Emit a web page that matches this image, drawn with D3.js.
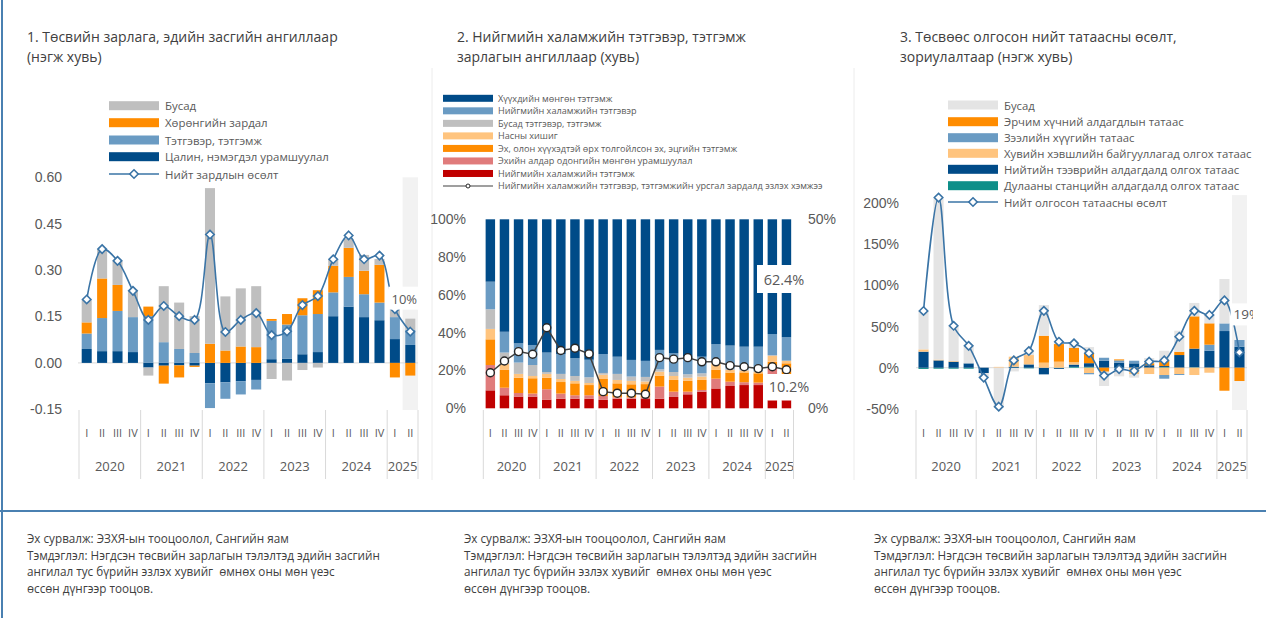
<!DOCTYPE html>
<html><head><meta charset="utf-8">
<script src="https://cdn.jsdelivr.net/npm/d3@7"></script>
<style>
body{margin:0;background:#fff;}
svg{display:block;font-family:"Open Sans","Noto Sans",sans-serif;}
text{white-space:pre;}
</style>
</head><body>
<svg id="c" width="1266" height="618"></svg>
<script>
// ---------- shared categories ----------
const years = ["2020","2021","2022","2023","2024","2025"];
const periods = ["2020-I","2020-II","2020-III","2020-IV","2021-I","2021-II","2021-III","2021-IV",
  "2022-I","2022-II","2022-III","2022-IV","2023-I","2023-II","2023-III","2023-IV",
  "2024-I","2024-II","2024-III","2024-IV","2025-I","2025-II"];

// ---------- panel 1 data (unit points) ----------
const p1Salary  = [0.045,0.038,0.038,0.035,-0.015,-0.009,-0.008,-0.009,-0.066,-0.063,-0.059,-0.055,0.012,0.014,0.028,0.035,0.151,0.182,0.148,0.138,0.077,0.058];
const p1Pension = [0.050,0.107,0.130,0.113,0.151,0.067,0.045,0.032,-0.080,-0.053,-0.043,-0.031,0.124,0.110,0.126,0.123,0.077,0.096,0.074,0.057,0.071,0.049];
const p1Capital = [0.036,0.128,0.084,0.000,0.031,-0.058,-0.039,-0.004,0.062,0.040,0.053,0.051,0.006,0.034,0.055,0.077,0.086,0.094,0.076,0.122,-0.047,-0.041];
const p1Other   = [0.072,0.095,0.078,0.088,-0.026,0.181,0.150,0.119,0.503,0.175,0.188,0.197,-0.052,-0.057,-0.023,-0.015,0.022,0.029,0.051,0.019,0.032,0.036];
const p1Total   = [0.205,0.368,0.330,0.233,0.139,0.184,0.151,0.139,0.415,0.100,0.139,0.161,0.090,0.102,0.187,0.216,0.335,0.412,0.335,0.347,0.174,0.101];
const p1Ticks = [-0.15,0,0.15,0.30,0.45,0.60];
const p1Legend = ["Бусад","Хөрөнгийн зардал","Тэтгэвэр, тэтгэмж","Цалин, нэмэгдэл урамшуулал","Нийт зардлын өсөлт"];
const p1Label = "10%";

// ---------- panel 2 data (% shares, line in % on right axis) ----------
const p2Red    = [9.5,6.9,6.2,6.2,4.6,5.1,5.1,5.1,4.6,5.1,5.1,4.9,5.1,6.0,7.4,8.8,10.5,11.8,12.3,12.3,4.1,4.1];
const p2Pink   = [13.4,4.0,1.9,1.6,5.5,2.7,1.8,1.8,1.9,0.7,0.7,0.9,6.4,2.8,1.4,0.9,5.2,2.3,1.5,1.3,17.9,2.0];
const p2Orange = [13.6,9.4,8.1,8.1,6.1,6.1,6.3,5.4,9.0,7.4,6.9,7.0,5.8,6.2,5.7,5.3,4.8,4.8,5.2,4.9,2.7,17.7];
const p2LightO = [5.5,3.2,2.0,1.2,2.0,1.6,1.3,1.1,2.3,1.8,1.8,1.4,2.1,2.1,1.7,1.8,3.3,1.4,1.0,0.7,3.0,1.4];
const p2Gray   = [10.4,6.0,6.0,5.8,1.0,2.7,2.6,3.0,0.9,3.2,2.3,2.4,1.2,2.1,1.8,1.7,0.7,0.7,0.6,0.6,0.5,0.0];
const p2LBlue  = [14.6,11.0,10.2,10.6,10.3,10.5,9.4,9.3,10.0,9.1,8.8,8.5,10.3,9.9,9.3,8.8,9.4,12.2,12.0,12.8,11.1,12.4];
const p2Dark   = [33.0,59.5,65.6,66.5,70.5,71.3,73.5,74.3,71.3,72.7,74.4,74.9,69.1,70.9,72.7,72.7,66.1,66.8,67.4,67.4,60.7,62.4];
const p2Line   = [9.4,12.5,15.0,14.3,21.3,15.3,15.9,14.4,4.4,4.0,4.0,3.7,13.4,13.0,13.4,12.3,12.3,11.3,11.0,10.5,11.0,10.2];
const p2TicksL = [0,20,40,60,80,100];
const p2TicksR = [0,50];
const p2Legend = ["Хүүхдийн мөнгөн тэтгэмж","Нийгмийн халамжийн тэтгэвэр","Бусад тэтгэвэр, тэтгэмж","Насны хишиг",
  "Эх, олон хүүхэдтэй өрх толгойлсон эх, эцгийн тэтгэмж","Эхийн алдар одонгийн мөнгөн урамшуулал",
  "Нийгмийн халамжийн тэтгэмж","Нийгмийн халамжийн тэтгэвэр, тэтгэмжийн урсгал зардалд эзлэх хэмжээ"];
const p2LabelTop = "62.4%";
const p2LabelLine = "10.2%";

// ---------- panel 3 data (%) ----------
const p3Heat   = [-1.5,-1.2,-1.2,-1.2,0,0,-0.5,-0.8,0,-0.5,1.0,1.0,0,-0.5,0,0,0.8,0,0.5,0,0,0];
const p3Public = [19.5,8.9,7.3,5.3,-6.5,0,1.2,4.0,-8.1,-1.0,2.8,4.5,8.5,6.1,5.3,3.0,1.2,15.4,22.7,20.7,44.6,25.5];
const p3Private= [2.8,1.0,0.8,0,0,1.0,12.2,11.4,6.1,7.3,2.8,-6.5,0,0,-8.1,-7.7,-8.9,-7.7,-8.9,-6.1,0,0];
const p3Loan   = [0,0,0,0,0,0,0,0,0,0,0,-1.5,3.6,2.8,3.2,0,-4.5,-1.2,0,7.3,9.3,8.2];
const p3Energy = [0,0,0,0,0,0,0,0,32.8,21.5,17.4,12.6,-4.9,1.2,0,2.5,6.5,4.0,39.3,26.0,-28.0,-16.2];
const p3Other  = [46.6,197.1,42.9,21.5,-5.0,-48.5,-4.0,5.3,37.3,2.5,6.0,7.0,-17.4,-10.0,-4.0,6.3,12.2,25.6,16.3,10.0,54.0,0];
const p3Line   = [69,207,51,26.6,-12,-47.4,8.9,20.3,69.2,31.6,29.6,17.6,-9.6,-1.8,-3.8,7.3,8.9,37.7,69.2,64.2,81.9,18.6];
const p3Ticks = [-50,0,50,100,150,200];
const p3Legend = ["Бусад","Эрчим хүчний алдагдлын татаас","Зээлийн хүүгийн татаас","Хувийн хэвшлийн байгууллагад олгох татаас",
  "Нийтийн тээврийн алдагдалд олгох татаас","Дулааны станцийн алдагдалд олгох татаас","Нийт олгосон татаасны өсөлт"];
const p3Label = "19%";

// ---------- texts ----------
const titles = [
  ["1. Төсвийн зарлага, эдийн засгийн ангиллаар","(нэгж хувь)"],
  ["2. Нийгмийн халамжийн тэтгэвэр, тэтгэмж","зарлагын ангиллаар (хувь)"],
  ["3. Төсвөөс олгосон нийт татаасны өсөлт,","зориулалтаар (нэгж хувь)"]
];
const footer = ["Эх сурвалж: ЭЗХЯ-ын тооцоолол, Сангийн яам",
  "Тэмдэглэл: Нэгдсэн төсвийн зарлагын тэлэлтэд эдийн засгийн",
  "ангилал тус бүрийн эзлэх хувийг  өмнөх оны мөн үеэс",
  "өссөн дүнгээр тооцов."];

// ---------- styles ----------
const C = {dark:"#004b88", lblue:"#6a9bc3", orange:"#ff8c00", gray:"#bfbfbf", lgray:"#e4e4e4",
  lorange:"#ffc47e", pink:"#e07b7b", red:"#c00000", teal:"#0e8f89", line:"#3a74a6", text:"#595959", title:"#404040"};

const svg = d3.select("#c");
const diamond = "M0,-4.2L4.2,0L0,4.2L-4.2,0Z";

// scale a group of texts so that one reference text gets the target width
function fitGroup(nodes, refNode, target){
  const w = refNode.getComputedTextLength();
  const base = parseFloat(refNode.getAttribute("font-size"));
  const fs = base*target/w;
  nodes.forEach(n=>n.setAttribute("font-size",fs));
}

// frame lines
svg.append("line").attr("x1",2).attr("x2",2).attr("y1",0).attr("y2",618).attr("stroke","#4a80b1").attr("stroke-width",2);
svg.append("line").attr("x1",0).attr("x2",1266).attr("y1",511).attr("y2",511).attr("stroke","#4a80b1").attr("stroke-width",2);
[432,854].forEach(x=>svg.append("line").attr("x1",x).attr("x2",x).attr("y1",68).attr("y2",480).attr("stroke","#ececec").attr("stroke-width",1));

// titles and footers
const tX = [27,457,900], fX = [27,464,874];
const titleNodes=[], footNodes=[];
titles.forEach((t,i)=>t.forEach((s,j)=>titleNodes.push(svg.append("text").attr("x",tX[i]).attr("y",42+j*19.5)
  .attr("font-size",15).attr("fill",C.title).text(s).node())));
fitGroup(titleNodes,titleNodes[0],311);
fX.forEach(x=>footer.forEach((s,j)=>footNodes.push(svg.append("text").attr("x",x).attr("y",543+j*16.7)
  .attr("font-size",12.5).attr("fill",C.title).text(s).node())));
fitGroup(footNodes,footNodes[1],353);

function stepStart(x,p){return x(p)-(x.step()-x.bandwidth())/2;}
function xAxis(g,x){
  periods.forEach(p=>g.append("text").attr("x",x(p)+x.bandwidth()/2).attr("y",437)
    .attr("text-anchor","middle").attr("font-size",11).attr("fill",C.text)
    .text(p.split("-")[1]));
  const bounds=[];
  years.forEach(yr=>{
    const ps=periods.filter(p=>p.startsWith(yr));
    const a=stepStart(x,ps[0]), b=stepStart(x,ps[ps.length-1])+x.step();
    bounds.push(a);
    g.append("text").attr("x",(a+b)/2).attr("y",471).attr("text-anchor","middle").attr("font-size",13)
      .attr("fill",C.text).text(yr);
  });
  bounds.push(stepStart(x,periods[periods.length-1])+x.step());
  bounds.forEach(b=>g.append("line").attr("x1",b).attr("x2",b).attr("y1",410).attr("y2",479).attr("stroke","#d9d9d9"));
}
function styleAxis(g){g.select(".domain").remove();g.selectAll("text").attr("font-size",14).attr("fill",C.text).attr("font-family",null);}

// ================= PANEL 1 =================
(function(){
  const g=svg.append("g");
  const x=d3.scaleBand().domain(periods).range([79,418]).paddingInner(0.35).paddingOuter(0.175);
  const y=d3.scaleLinear().domain([-0.15,0.6]).range([409.3,177.3]);
  const last=periods[periods.length-1];
  g.append("rect").attr("x",stepStart(x,last)).attr("width",x.step()).attr("y",y(0.6)).attr("height",410-y(0.6)).attr("fill","#f2f2f2");
  g.append("line").attr("x1",78).attr("x2",418).attr("y1",y(0)).attr("y2",y(0)).attr("stroke","#d9d9d9");
  const rows=periods.map((p,i)=>({p,salary:p1Salary[i],pension:p1Pension[i],capital:p1Capital[i],other:p1Other[i]}));
  const keys=["salary","pension","capital","other"], cols=[C.dark,C.lblue,C.orange,C.gray];
  const st=d3.stack().keys(keys).offset(d3.stackOffsetDiverging)(rows);
  st.forEach((s,k)=>g.append("g").selectAll("rect").data(s).join("rect")
    .attr("x",d=>x(d.data.p)).attr("width",x.bandwidth())
    .attr("y",d=>y(Math.max(d[0],d[1]))).attr("height",d=>Math.abs(y(d[0])-y(d[1]))).attr("fill",cols[k]));
  const cx=p=>x(p)+x.bandwidth()/2;
  g.append("path").datum(p1Total).attr("fill","none").attr("stroke",C.line).attr("stroke-width",1.6)
    .attr("d",d3.line().x((d,i)=>cx(periods[i])).y(d=>y(d)).curve(d3.curveCatmullRom.alpha(0.5)));
  g.selectAll(".m").data(p1Total).join("path").attr("d",diamond)
    .attr("transform",(d,i)=>`translate(${cx(periods[i])},${y(d)})`).attr("fill","#fff").attr("stroke",C.line).attr("stroke-width",1.6);
  // label
  const lx=cx(last)-6, ly=y(p1Total[21])-33;
  g.append("rect").attr("x",lx-16).attr("y",ly-12).attr("width",30).attr("height",23).attr("fill","#fff");
  g.append("text").attr("x",lx).attr("y",ly+5).attr("text-anchor","middle").attr("font-size",13).attr("fill",C.text).text(p1Label);
  const ax=g.append("g").attr("transform","translate(64,0)").call(d3.axisLeft(y).tickValues(p1Ticks).tickSize(0).tickPadding(2).tickFormat(d=>d.toFixed(2)));
  styleAxis(ax);
  xAxis(g,x);
  // legend
  const lcols=[C.gray,C.orange,C.lblue,C.dark];
  const ly0=[105.7,122.7,140,156.7,174];
  const nodes=[];
  p1Legend.forEach((s,i)=>{
    if(i<4) g.append("rect").attr("x",109).attr("y",ly0[i]-4.5).attr("width",50).attr("height",9).attr("fill",lcols[i]);
    else {g.append("line").attr("x1",109).attr("x2",159).attr("y1",ly0[i]).attr("y2",ly0[i]).attr("stroke",C.line).attr("stroke-width",1.6);
      g.append("path").attr("d",diamond).attr("transform",`translate(134,${ly0[i]})`).attr("fill","#fff").attr("stroke",C.line).attr("stroke-width",1.6);}
    nodes.push(g.append("text").attr("x",165).attr("y",ly0[i]+4.5).attr("font-size",12.5).attr("fill",C.text).text(s).node());
  });
  fitGroup(nodes,nodes[3],164);
})();

// ================= PANEL 2 =================
(function(){
  const g=svg.append("g");
  const x=d3.scaleBand().domain(periods).range([483.3,793.5]).paddingInner(0.33).paddingOuter(0.165);
  const y=d3.scaleLinear().domain([0,100]).range([408.3,219.3]);
  const yr=d3.scaleLinear().domain([0,50]).range([408.3,219.3]);
  const rows=periods.map((p,i)=>({p,red:p2Red[i],pink:p2Pink[i],orange:p2Orange[i],lo:p2LightO[i],gray:p2Gray[i],lb:p2LBlue[i],dark:p2Dark[i]}));
  const keys=["red","pink","orange","lo","gray","lb","dark"], cols=[C.red,C.pink,C.orange,C.lorange,C.gray,C.lblue,C.dark];
  const st=d3.stack().keys(keys)(rows);
  st.forEach((s,k)=>g.append("g").selectAll("rect").data(s).join("rect")
    .attr("x",d=>x(d.data.p)).attr("width",x.bandwidth())
    .attr("y",d=>y(d[1])).attr("height",d=>y(d[0])-y(d[1])).attr("fill",cols[k]));
  const cx=p=>x(p)+x.bandwidth()/2;
  g.append("path").datum(p2Line).attr("fill","none").attr("stroke","#404040").attr("stroke-width",1.5)
    .attr("d",d3.line().x((d,i)=>cx(periods[i])).y(d=>yr(d)));
  g.selectAll(".m").data(p2Line).join("circle").attr("cx",(d,i)=>cx(periods[i])).attr("cy",d=>yr(d)).attr("r",4)
    .attr("fill","#fff").attr("stroke","#262626").attr("stroke-width",1.4);
  // labels
  g.append("rect").attr("x",757).attr("y",265).attr("width",50).attr("height",28).attr("fill","#fff");
  g.append("text").attr("x",784).attr("y",285).attr("text-anchor","middle").attr("font-size",14.5).attr("fill",C.text).text(p2LabelTop);
  g.append("rect").attr("x",767).attr("y",374).attr("width",41).attr("height",26).attr("fill","#fff");
  g.append("text").attr("x",789).attr("y",392).attr("text-anchor","middle").attr("font-size",14.5).attr("fill",C.text).text(p2LabelLine);
  const axL=g.append("g").attr("transform","translate(468,0)").call(d3.axisLeft(y).tickValues(p2TicksL).tickSize(0).tickPadding(2).tickFormat(d=>d+"%"));
  styleAxis(axL);
  const axR=g.append("g").attr("transform","translate(806,0)").call(d3.axisRight(yr).tickValues(p2TicksR).tickSize(0).tickPadding(2).tickFormat(d=>d+"%"));
  styleAxis(axR);
  xAxis(g,x);
  // legend
  const lcols=[C.dark,C.lblue,C.gray,C.lorange,C.orange,C.pink,C.red];
  const nodes=[];
  p2Legend.forEach((s,i)=>{
    const yy=98.3+i*12.53;
    if(i<7) g.append("rect").attr("x",443).attr("y",yy-3.5).attr("width",50).attr("height",7).attr("fill",lcols[i]);
    else {g.append("line").attr("x1",443).attr("x2",493).attr("y1",yy).attr("y2",yy).attr("stroke","#404040").attr("stroke-width",1.2);
      g.append("circle").attr("cx",468).attr("cy",yy).attr("r",2).attr("fill","#fff").attr("stroke","#262626");}
    nodes.push(g.append("text").attr("x",498).attr("y",yy+3.3).attr("font-size",9).attr("fill",C.text).text(s).node());
  });
  fitGroup(nodes,nodes[7],325);
})();

// ================= PANEL 3 =================
(function(){
  svg.append("clipPath").attr("id","clip3").append("rect").attr("x",855).attr("y",0).attr("width",398).attr("height",500);
  const g=svg.append("g").attr("clip-path","url(#clip3)");
  const x=d3.scaleBand().domain(periods).range([916,1247]).paddingInner(0.33).paddingOuter(0.165);
  const y=d3.scaleLinear().domain([-50,200]).range([408.8,203.3]);
  const last=periods[periods.length-1];
  g.append("rect").attr("x",stepStart(x,last)).attr("width",x.step()).attr("y",y(210)).attr("height",410-y(210)).attr("fill","#f2f2f2");
  g.append("line").attr("x1",916).attr("x2",1247).attr("y1",y(0)).attr("y2",y(0)).attr("stroke","#d9d9d9");
  const rows=periods.map((p,i)=>({p,heat:p3Heat[i],pub:p3Public[i],priv:p3Private[i],loan:p3Loan[i],energy:p3Energy[i],other:p3Other[i]}));
  const keys=["heat","pub","priv","loan","energy","other"], cols=[C.teal,C.dark,C.lorange,C.lblue,C.orange,C.lgray];
  const st=d3.stack().keys(keys).offset(d3.stackOffsetDiverging)(rows);
  st.forEach((s,k)=>g.append("g").selectAll("rect").data(s).join("rect")
    .attr("x",d=>x(d.data.p)).attr("width",x.bandwidth())
    .attr("y",d=>y(Math.max(d[0],d[1]))).attr("height",d=>Math.abs(y(d[0])-y(d[1]))).attr("fill",cols[k]));
  const cx=p=>x(p)+x.bandwidth()/2;
  g.append("path").datum(p3Line).attr("fill","none").attr("stroke",C.line).attr("stroke-width",1.6)
    .attr("d",d3.line().x((d,i)=>cx(periods[i])).y(d=>y(d)).curve(d3.curveCatmullRom.alpha(0.5)));
  // label
  const lx=cx(last)-6, ly=y(p3Line[21])-38;
  g.append("rect").attr("x",lx-3).attr("y",ly-11).attr("width",30).attr("height",22).attr("fill","#fff");
  g.append("text").attr("x",lx).attr("y",ly+5).attr("font-size",13.5).attr("fill",C.text).text(p3Label);
  g.selectAll(".m").data(p3Line).join("path").attr("d",diamond)
    .attr("transform",(d,i)=>`translate(${cx(periods[i])},${y(d)})`).attr("fill","#fff").attr("stroke",C.line).attr("stroke-width",1.6);
  const ax=svg.append("g").attr("transform","translate(901,0)").call(d3.axisLeft(y).tickValues(p3Ticks).tickSize(0).tickPadding(2).tickFormat(d=>d+"%"));
  styleAxis(ax);
  xAxis(g,x);
  const lg=svg.append("g");
  const lcols=[C.lgray,C.orange,C.lblue,C.lorange,C.dark,C.teal];
  const ly0=[105,121.7,137.7,153.3,169.3,185.7,202];
  const nodes=[];
  p3Legend.forEach((s,i)=>{
    if(i<6) lg.append("rect").attr("x",948).attr("y",ly0[i]-4.5).attr("width",50).attr("height",9).attr("fill",lcols[i]);
    else {lg.append("line").attr("x1",948).attr("x2",998).attr("y1",ly0[i]).attr("y2",ly0[i]).attr("stroke",C.line).attr("stroke-width",1.6);
      lg.append("path").attr("d",diamond).attr("transform",`translate(973,${ly0[i]})`).attr("fill","#fff").attr("stroke",C.line).attr("stroke-width",1.6);}
    nodes.push(lg.append("text").attr("x",1004).attr("y",ly0[i]+4.5).attr("font-size",12.5).attr("fill",C.text).text(s).node());
  });
  fitGroup(nodes,nodes[3],248);
})();
</script>
</body></html>
